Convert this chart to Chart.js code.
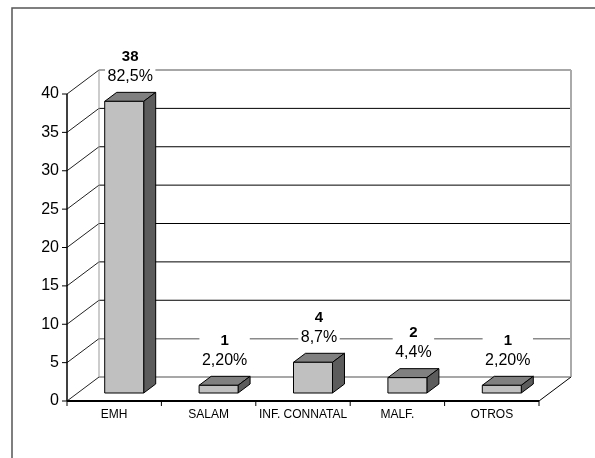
<!DOCTYPE html>
<html>
<head>
<meta charset="utf-8">
<script src="https://cdn.jsdelivr.net/npm/chart.js@4/dist/chart.umd.min.js"></script>
<style>
  html, body { margin: 0; padding: 0; background: #fff; }
  canvas { display: block; }
</style>
</head>
<body>
<canvas id="myChart" width="595" height="458"></canvas>
<script>
const categorias = ['EMH', 'SALAM', 'INF. CONNATAL', 'MALF.', 'OTROS'];
const casos = [38, 1, 4, 2, 1];
const porcentajes = ['82,5%', '2,20%', '8,7%', '4,4%', '2,20%'];
const yMax = 40;
const yPaso = 5;

// fake 3D: back wall offset, where the boxes sit inside the depth, and box depth
const fondo = { x: 32, y: -24 };
const desplBarra = { x: 10, y: -8 };
const profBarra = { x: 12, y: -9 };
const fuente = 'Liberation Sans, Arial, sans-serif';

function linea(ctx, x1, y1, x2, y2, color, ancho) {
  ctx.beginPath();
  ctx.moveTo(x1, y1);
  ctx.lineTo(x2, y2);
  ctx.strokeStyle = color;
  ctx.lineWidth = ancho;
  ctx.stroke();
}

function poligono(ctx, pts, relleno) {
  ctx.beginPath();
  ctx.moveTo(pts[0][0], pts[0][1]);
  for (let i = 1; i < pts.length; i++) ctx.lineTo(pts[i][0], pts[i][1]);
  ctx.closePath();
  ctx.fillStyle = relleno;
  ctx.fill();
  ctx.strokeStyle = '#000';
  ctx.lineWidth = 1;
  ctx.stroke();
}

const caja3d = {
  id: 'caja3d',
  beforeDatasetsDraw(chart) {
    const { ctx, chartArea: a, scales } = chart;
    const ys = scales.y, xs = scales.x;
    ctx.save();

    // outer frame
    ctx.strokeStyle = '#555';
    ctx.lineWidth = 1.5;
    ctx.strokeRect(12, 8, 620, 480);

    // back wall and left wall
    ys.ticks.forEach(t => {
      const py = ys.getPixelForValue(t.value);
      const gris = (t.value === 0 || t.value === 5 || t.value === yMax);
      linea(ctx, a.left + fondo.x, py + fondo.y, a.right + fondo.x, py + fondo.y,
            gris ? '#8a8a8a' : '#000', gris ? 1.5 : 1);
      linea(ctx, a.left, py, a.left + fondo.x, py + fondo.y, '#222', 1);
      linea(ctx, a.left - 5, py, a.left, py, '#000', 1);
    });
    linea(ctx, a.left + fondo.x, a.top + fondo.y, a.left + fondo.x, a.bottom + fondo.y, '#999', 1);
    linea(ctx, a.right + fondo.x, a.top + fondo.y, a.right + fondo.x, a.bottom + fondo.y, '#aaa', 2);

    // floor and axes
    linea(ctx, a.left, a.bottom, a.right, a.bottom, '#000', 2);
    linea(ctx, a.right, a.bottom, a.right + fondo.x, a.bottom + fondo.y, '#000', 1);
    linea(ctx, a.left, a.top, a.left, a.bottom, '#000', 1.5);

    const anchoCat = (a.right - a.left) / categorias.length;
    for (let i = 0; i <= categorias.length; i++) {
      const px = i < categorias.length ? xs.getPixelForValue(i) - anchoCat / 2 : a.right;
      linea(ctx, px, a.bottom, px, a.bottom + 5, '#000', 1);
    }
    ctx.restore();
  },
  afterDatasetsDraw(chart) {
    const { ctx, chartArea: a, scales } = chart;
    const ys = scales.y, xs = scales.x;
    const meta = chart.getDatasetMeta(0);
    ctx.save();

    meta.data.forEach((bar, i) => {
      const w = bar.width;
      const x0 = bar.x - w / 2 + desplBarra.x;
      const x1 = x0 + w;
      const yb = bar.base + desplBarra.y;
      const yt = bar.y + desplBarra.y;
      const dx = profBarra.x, dy = profBarra.y;

      poligono(ctx, [[x0, yt], [x1, yt], [x1 + dx, yt + dy], [x0 + dx, yt + dy]], '#808080');
      poligono(ctx, [[x1, yt], [x1 + dx, yt + dy], [x1 + dx, yb + dy], [x1, yb]], '#5c5c5c');
      poligono(ctx, [[x0, yt], [x1, yt], [x1, yb], [x0, yb]], '#c0c0c0');

      // value and percentage over each box
      const cx = bar.x + desplBarra.x + dx / 2;
      const yPct = yt + dy - 16;
      const yVal = yPct - 19.5;
      ctx.font = 'bold 15px ' + fuente;
      const wVal = ctx.measureText(String(casos[i])).width;
      ctx.font = '16px ' + fuente;
      const wPct = ctx.measureText(porcentajes[i]).width;
      const wCaja = Math.max(wVal, wPct) + 5;
      ctx.fillStyle = '#fff';
      ctx.fillRect(cx - wCaja / 2, yVal - 10, wCaja, yPct - yVal + 19);

      ctx.fillStyle = '#000';
      ctx.textAlign = 'center';
      ctx.textBaseline = 'middle';
      ctx.font = 'bold 15px ' + fuente;
      ctx.fillText(String(casos[i]), cx, yVal);
      ctx.font = '16px ' + fuente;
      ctx.fillText(porcentajes[i], cx, yPct);
    });

    // axis labels
    ctx.fillStyle = '#000';
    ctx.textBaseline = 'middle';
    ctx.textAlign = 'right';
    ctx.font = '16px ' + fuente;
    ys.ticks.forEach(t => {
      ctx.fillText(String(t.value), a.left - 8, ys.getPixelForValue(t.value));
    });
    ctx.textAlign = 'center';
    ctx.font = '12px ' + fuente;
    categorias.forEach((c, i) => {
      ctx.fillText(c, xs.getPixelForValue(i), a.bottom + 14);
    });
    ctx.restore();
  }
};

const data = {
  labels: categorias,
  datasets: [{
    label: 'Casos',
    data: casos,
    backgroundColor: 'rgba(0,0,0,0)',
    borderWidth: 0,
    categoryPercentage: 1,
    barPercentage: 0.413
  }]
};

const config = {
  type: 'bar',
  data: data,
  options: {
    responsive: false,
    animation: false,
    layout: { padding: { left: 67, right: 56, top: 94, bottom: 57 } },
    plugins: { legend: { display: false }, tooltip: { enabled: false } },
    scales: {
      x: { display: false },
      y: { display: false, min: 0, max: yMax, ticks: { stepSize: yPaso } }
    }
  },
  plugins: [caja3d]
};

const myChart = new Chart(document.getElementById('myChart'), config);
</script>
</body>
</html>
